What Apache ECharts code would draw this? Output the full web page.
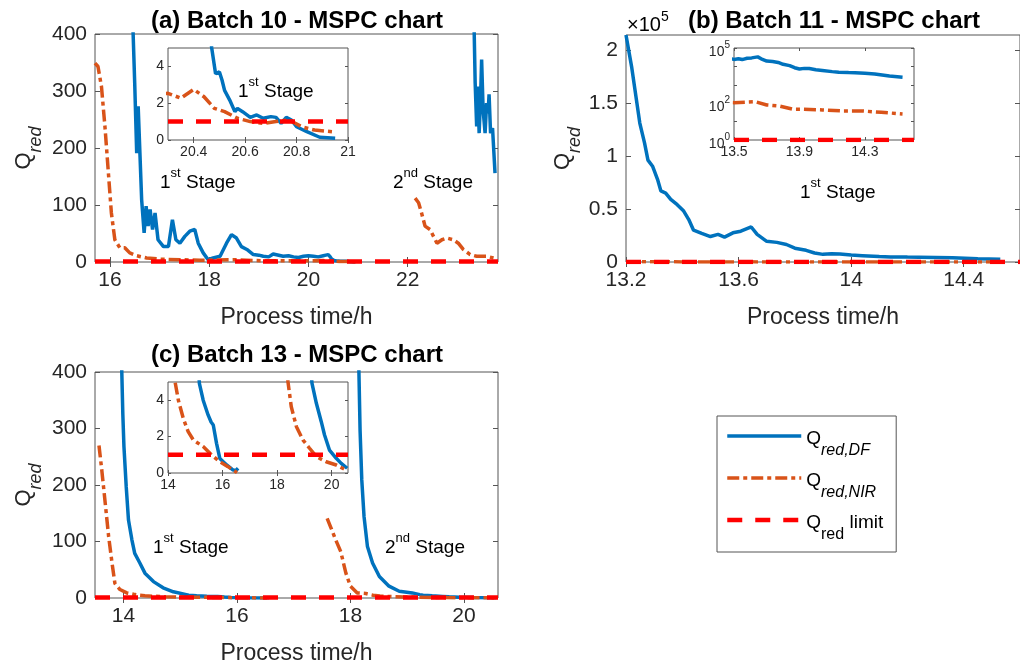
<!DOCTYPE html>
<html><head><meta charset="utf-8">
<script src="https://cdn.jsdelivr.net/npm/echarts@6/dist/echarts.min.js"></script>
<style>html,body{margin:0;padding:0;background:#fff}#c{width:1020px;height:668px}</style>
</head><body><div id="c"></div>
<script>
// ---------------- DATA ----------------
const LIMIT = 1; // Q_red limit

// (a) Batch 10
const aDF1_t = [16.45,16.50,16.54,16.57,16.64,16.69,16.73,16.77,16.81,16.86,16.91,16.97,17.08,17.18,17.26,17.33,17.41,17.51,17.61,17.71,17.78,17.88,17.98,18.08,18.22,18.35,18.45,18.55,18.65,18.76,18.89,19.0,19.09,19.2,19.29,19.49,19.6,19.70,19.8,19.90,20.0,20.10,20.2,20.30,20.35,20.40,20.44,20.47,20.485,20.50,20.51,20.52,20.54,20.56,20.57,20.59,20.62,20.645,20.67,20.70,20.72,20.74,20.76,20.78,20.80,20.84,20.89,20.95];
const aDF1_q = [450,314,191,273,109,51,98,63,92,57,86,39,27,27,74,39,33,45,54,57,33,16,4,7,10,33,48,42,27,22,13,12,10,9,14,10,11,9,8,10,11,10,9,11,12,13,9,5.0,3.6,3.7,3.26,2.7,2.17,1.54,1.72,1.54,1.23,1.36,1.18,1.27,1.23,0.9,1.23,1.09,0.72,0.45,0.15,0.09];
const aDF2_t = [23.33,23.36,23.39,23.41,23.44,23.47,23.49,23.52,23.56,23.59,23.62,23.64,23.67,23.71,23.76];
const aDF2_q = [450,314,238,308,226,291,355,267,226,279,261,294,226,235,156];
const aNIR1_t = [15.70,15.76,15.83,15.90,15.97,16.03,16.10,16.20,16.30,16.40,16.54,16.74,17.01,17.41,17.81,18.49,19.16,19.83,20.30,20.35,20.40,20.44,20.48,20.52,20.57,20.62,20.67,20.72,20.77,20.82,20.87,20.94];
const aNIR1_q = [349,343,308,238,156,86,39,25,25,16,11,7,5,4,3,4,2,2,2.54,2.27,2.75,2.35,1.72,1.54,1.18,1.0,0.9,1.0,1.09,0.72,0.54,0.45];
const aNIR2_t = [22.15,22.22,22.28,22.35,22.45,22.52,22.59,22.69,22.79,22.92,23.02,23.12,23.26,23.39,23.59,23.73];
const aNIR2_q = [112,104,86,63,57,45,33,39,42,39,33,22,13,10,10,7];
const aXTicks = [16,18,20,22], aYTicks = [0,100,200,300,400];
const aInXTicks = [20.4,20.6,20.8,21], aInYTicks = [0,2,4];

// (b) Batch 11
const bDF_t = [13.20,13.22,13.237,13.249,13.266,13.278,13.295,13.312,13.324,13.341,13.359,13.382,13.405,13.423,13.44,13.469,13.50,13.527,13.55,13.58,13.608,13.645,13.666,13.70,13.736,13.77,13.80,13.84,13.87,13.90,13.93,13.96,14.00,14.04,14.10,14.14,14.20,14.24,14.30,14.36,14.45,14.53];
const bDF_q = [214000,184000,153000,131000,112000,96000,90000,78000,67000,65000,59000,54000,48000,40000,30000,27000,24000,26000,23500,27500,29000,33000,26000,19500,18500,16500,13000,11000,8500,7200,7800,7600,6500,6000,5200,4800,4600,4500,4200,3900,3000,2600];
const bNIR_t = [13.20,13.30,13.40,13.50,13.63,13.70,13.78,13.86,13.92,14.04,14.16,14.28,14.40,14.53];
const bNIR_q = [140,125,115,107,120,80,70,47,47,43,38,38,32,26];
const bXTicks = [13.2,13.6,14.0,14.4], bYTicks = [0,50000,100000,150000,200000];
const bInXTicks = [13.5,13.9,14.3], bInYLabels = [1,100,100000];

// (c) Batch 13
const cDF1_t = [13.96,13.99,14.01,14.05,14.09,14.15,14.20,14.29,14.38,14.53,14.70,14.88,15.11,15.15,15.29,15.47,15.58,15.66,15.78,15.90,16.15,16.39,16.50,16.57];
const cDF1_q = [450,326,268,197,138,103,79,62,44,29,18,11,6,4.93,4.0,3.19,2.8,2.64,1.63,0.8,0.44,0.16,0.15,0.26];
const cDF2_t = [18.14,18.17,18.20,18.24,18.30,18.39,18.51,18.68,18.86,19.09,19.22,19.28,19.44,19.62,19.74,19.92,20.17,20.35,20.57];
const cDF2_q = [450,297,209,144,91,62,38,21,12,9,6,4.93,3.83,2.82,2.09,1.26,0.81,0.53,0.26];
const cNIR1_t = [13.57,13.62,13.68,13.74,13.80,13.85,13.94,14.06,14.18,14.26,14.38,14.56,14.74,14.93,15.29,15.60,15.90,16.20,16.53];
const cNIR1_q = [270,226,168,109,62,26,15,9,6.5,5.0,4.0,3.0,2.27,1.81,1.45,0.99,0.62,0.35,0.02];
const cNIR2_t = [17.59,17.65,17.74,17.83,17.92,18.00,18.12,18.27,18.35,18.40,18.52,18.71,18.95,19.19,19.44,19.80,20.17,20.53];
const cNIR2_q = [141,126,103,82,44,21,9,8,6,5.0,3.64,2.54,1.81,1.36,0.9,0.62,0.44,0.16];
const cXTicks = [14,16,18,20], cYTicks = [0,100,200,300,400];
const cInXTicks = [14,16,18,20], cInYTicks = [0,2,4];

// ---------------- STYLE / BUILD ----------------
const FONT = '"Liberation Sans", Arial, Helvetica, sans-serif';
const AXC = '#262626', BOX = '#555555';
const C_DF = '#0072BD', C_NIR = '#D95319', C_LIM = '#FF0000';
const N_DF = 'Q_red,DF', N_NIR = 'Q_red,NIR', N_LIM = 'Q_red limit';
const ST_DF = {color: C_DF, width: 3.5, type: 'solid'};
const ST_NIR = {color: C_NIR, width: 3.5, type: [12, 4, 4, 4]};
const ST_LIM = {color: C_LIM, width: 4.5, type: [15, 13]};

const grids = [], xAxes = [], yAxes = [], series = [];
const nameRich = {
  q: {fontSize: 22, lineHeight: 22, verticalAlign: 'top', color: AXC, fontFamily: FONT},
  s: {fontSize: 18, lineHeight: 18, verticalAlign: 'top', fontStyle: 'italic', padding: [14,0,0,0], color: AXC, fontFamily: FONT}
};
const fmtNum = v => String(+(+v).toFixed(3));

function panel(o) {
  const gi = grids.length;
  const ins = !!o.inset;
  grids.push({left: o.l, top: o.t, width: o.w, height: o.h, show: true, backgroundColor: '#fff',
    borderColor: BOX, borderWidth: 1, z: ins ? 3 : 0});
  const fs = ins ? 14 : 21, tl = ins ? 3 : 5, z = ins ? 4 : 1;
  const tick = vals => ({show: true, inside: true, length: tl, customValues: vals, lineStyle: {color: BOX, width: 1}});
  const xi = xAxes.length;
  xAxes.push({gridIndex: gi, type: 'value', position: 'bottom', min: o.xr[0], max: o.xr[1], z,
    splitLine: {show: false}, axisLine: {show: false}, axisTick: tick(o.xt),
    axisLabel: {customValues: o.xt, fontSize: fs, color: AXC, fontFamily: FONT, margin: ins ? 5 : 8, formatter: fmtNum},
    name: o.xname || '', nameLocation: 'middle', nameGap: 44,
    nameTextStyle: {fontSize: 23, color: AXC, fontFamily: FONT}});
  xAxes.push({gridIndex: gi, type: 'value', position: 'top', min: o.xr[0], max: o.xr[1], z,
    splitLine: {show: false}, axisLine: {show: false}, axisTick: tick(o.xt), axisLabel: {show: false}});
  const yi = yAxes.length;
  const yMain = {gridIndex: gi, type: o.ylog ? 'log' : 'value', position: 'left', min: o.yr[0], max: o.yr[1], z,
    splitLine: {show: false}, axisLine: {show: false},
    axisLabel: {fontSize: fs, color: AXC, fontFamily: FONT, margin: ins ? 4 : 8, formatter: o.yfmt || fmtNum},
    name: o.yname || '', nameLocation: 'middle', nameGap: o.ygap || 60, nameRotate: 90,
    nameTextStyle: {rich: nameRich}};
  if (o.ylog) {
    yMain.logBase = 10;
    yMain.axisTick = {show: true, inside: true, length: tl, lineStyle: {color: BOX}};
    yMain.axisLabel.rich = {
      b: {fontSize: 14, lineHeight: 16, verticalAlign: 'top', padding: [5,0,0,0], color: AXC, fontFamily: FONT},
      e: {fontSize: 10, lineHeight: 10, verticalAlign: 'top', color: AXC, fontFamily: FONT}
    };
  } else {
    yMain.axisTick = tick(o.yt);
    yMain.axisLabel.customValues = o.yt;
  }
  yAxes.push(yMain);
  const ySec = {gridIndex: gi, type: o.ylog ? 'log' : 'value', position: 'right', min: o.yr[0], max: o.yr[1], z,
    splitLine: {show: false}, axisLine: {show: false}, axisLabel: {show: false}};
  if (o.ylog) { ySec.logBase = 10; ySec.axisTick = {show: true, inside: true, length: tl, lineStyle: {color: BOX}}; }
  else ySec.axisTick = tick(o.yt);
  yAxes.push(ySec);
  return {xi, yi, z: ins ? 6 : 2, xr: o.xr};
}

function line(ax, name, t, q, style) {
  series.push({type: 'line', name, xAxisIndex: ax.xi, yAxisIndex: ax.yi,
    data: t.map((x, i) => [x, q[i]]), symbol: 'none', showSymbol: false, clip: true,
    lineStyle: style, itemStyle: {color: style.color}, z: ax.z, silent: true, animation: false});
}
function limitLine(ax) {
  line(ax, N_LIM, [ax.xr[0], ax.xr[1]], [LIMIT, LIMIT], ST_LIM);
}

// ---- panels ----
const A = panel({l: 95, t: 34, w: 403, h: 228, xr: [15.7, 23.82], yr: [0, 400], xt: aXTicks, yt: aYTicks,
  xname: 'Process time/h', yname: '{q|Q}{s|red}', ygap: 60});
const Ai = panel({inset: true, l: 168, t: 48, w: 180, h: 92, xr: [20.3, 21], yr: [0, 5], xt: aInXTicks, yt: aInYTicks});
const B = panel({l: 626, t: 35, w: 403, h: 227, xr: [13.2, 14.6], yr: [0, 214000], xt: bXTicks, yt: bYTicks,
  xname: 'Process time/h', yname: '{q|Q}{s|red}', ygap: 52, yfmt: v => String(+(v / 1e5).toFixed(2))});
const Bi = panel({inset: true, l: 734, t: 48, w: 180, h: 92, xr: [13.5, 14.6], yr: [1, 100000], xt: bInXTicks, ylog: true,
  yfmt: v => { const e = Math.round(Math.log10(v)); return bInYLabels.indexOf(Math.pow(10, e)) >= 0 ? '{b|10}{e|' + e + '}' : ''; }});
const C = panel({l: 95, t: 372, w: 403, h: 226, xr: [13.5, 20.6], yr: [0, 400], xt: cXTicks, yt: cYTicks,
  xname: 'Process time/h', yname: '{q|Q}{s|red}', ygap: 60});
const Ci = panel({inset: true, l: 168, t: 382, w: 180, h: 91, xr: [14, 20.6], yr: [0, 5], xt: cInXTicks, yt: cInYTicks});

// (a)
[A, Ai].forEach(ax => {
  line(ax, N_DF, aDF1_t, aDF1_q, ST_DF); line(ax, N_DF, aDF2_t, aDF2_q, ST_DF);
  line(ax, N_NIR, aNIR1_t, aNIR1_q, ST_NIR); line(ax, N_NIR, aNIR2_t, aNIR2_q, ST_NIR);
  limitLine(ax);
});
// (b)
[B, Bi].forEach(ax => {
  line(ax, N_DF, bDF_t, bDF_q, ST_DF);
  line(ax, N_NIR, bNIR_t, bNIR_q, ST_NIR);
  limitLine(ax);
});
// (c)
[C, Ci].forEach(ax => {
  line(ax, N_DF, cDF1_t, cDF1_q, ST_DF); line(ax, N_DF, cDF2_t, cDF2_q, ST_DF);
  line(ax, N_NIR, cNIR1_t, cNIR1_q, ST_NIR); line(ax, N_NIR, cNIR2_t, cNIR2_q, ST_NIR);
  limitLine(ax);
});

// ---- texts ----
function title(x, y, txt) {
  return {type: 'text', x, y, z: 100, style: {text: txt, font: 'bold 24px ' + FONT, fill: '#000', align: 'center', verticalAlign: 'middle'}};
}
const supRich = {
  n: {fontSize: 19, lineHeight: 22, verticalAlign: 'top', padding: [6,0,0,0], fontFamily: FONT, color: '#000'},
  s: {fontSize: 13, lineHeight: 14, verticalAlign: 'top', fontFamily: FONT, color: '#000'}
};
function stage(x, y, ord, sup) {
  return {type: 'text', x, y, z: 100, style: {text: '{n|' + ord + '}{s|' + sup + '}{n| Stage}', rich: supRich,
    fill: '#000', align: 'left', verticalAlign: 'middle'}};
}
const graphics = [
  title(297, 21, '(a) Batch 10 - MSPC chart'),
  title(834, 21, '(b) Batch 11 - MSPC chart'),
  title(297, 355, '(c) Batch 13 - MSPC chart'),
  {type: 'text', x: 627, y: 21, z: 100, style: {text: '{a|\u00d710}{e|5}', align: 'left', verticalAlign: 'middle',
    rich: {a: {fontSize: 20, lineHeight: 22, verticalAlign: 'top', padding: [5,0,0,0], color: AXC, fontFamily: FONT},
           e: {fontSize: 14, lineHeight: 14, verticalAlign: 'top', color: AXC, fontFamily: FONT}}}},
  stage(160, 178, '1', 'st'),
  stage(238, 87, '1', 'st'),
  stage(393, 178, '2', 'nd'),
  stage(800, 188, '1', 'st'),
  stage(153, 543, '1', 'st'),
  stage(385, 543, '2', 'nd')
];

const LEG = {};
LEG[N_DF] = '{q|Q}{s|red,DF}';
LEG[N_NIR] = '{q|Q}{s|red,NIR}';
LEG[N_LIM] = '{q|Q}{u|red}{q| limit}';

const option = {
  animation: false,
  textStyle: {fontFamily: FONT},
  grid: grids, xAxis: xAxes, yAxis: yAxes, series,
  legend: {
    show: true, orient: 'vertical', left: 717, top: 416, padding: [9, 13, 9, 8], itemGap: 8,
    itemWidth: 74, itemHeight: 14, borderColor: BOX, borderWidth: 1, backgroundColor: '#fff', borderRadius: 0,
    selectedMode: false, data: [N_DF, N_NIR, N_LIM], formatter: n => LEG[n],
    itemStyle: {opacity: 0},
    lineStyle: {width: 'inherit', type: 'inherit', color: 'inherit'},
    textStyle: {rich: {
      q: {fontSize: 19, lineHeight: 22, verticalAlign: 'top', padding: [4,0,0,0], color: '#000', fontFamily: FONT},
      s: {fontSize: 16, lineHeight: 16, verticalAlign: 'top', padding: [18,0,0,0], fontStyle: 'italic', color: '#000', fontFamily: FONT},
      u: {fontSize: 16, lineHeight: 16, verticalAlign: 'top', padding: [18,0,0,0], color: '#000', fontFamily: FONT}
    }}
  },
  graphic: graphics
};
const chart = echarts.init(document.getElementById('c'), null, {renderer: 'canvas'});
chart.setOption(option);
</script></body></html>
